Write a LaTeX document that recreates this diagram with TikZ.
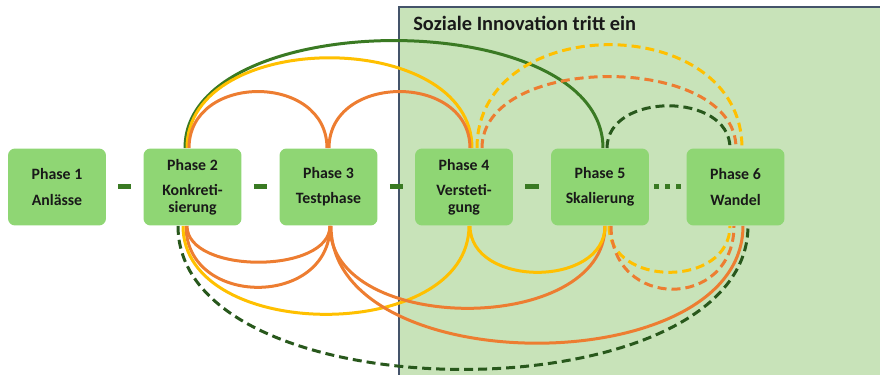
\documentclass[tikz,border=0pt]{standalone}
\usepackage{fontspec}
\setmainfont{Carlito}
\usetikzlibrary{backgrounds}
\definecolor{boxgreen}{RGB}{143,214,116}
\definecolor{areagreen}{RGB}{200,227,185}
\definecolor{arealine}{RGB}{68,84,106}
\definecolor{darkgreen}{RGB}{58,122,35}
\definecolor{dashgreen}{RGB}{40,88,28}
\definecolor{lineorange}{RGB}{237,125,49}
\definecolor{lineyellow}{RGB}{255,192,0}

\begin{document}
\begin{tikzpicture}[x=0.02cm,y=-0.02cm,
  phase/.style={fill=boxgreen, rounded corners=0.14cm, minimum width=1.96cm, minimum height=1.54cm,
    inner sep=0pt, align=center, text=black!90, font=\bfseries\fontsize{9}{9.8}\selectfont},
  link/.style={darkgreen, line width=0.1cm, shorten <=0.24cm, shorten >=0.24cm},
  bow/.style={line width=0.06cm},
  dashy/.style={dash pattern=on 0.18cm off 0.1cm}]
  \useasboundingbox (0,0) rectangle (880,375);

  \node[phase] (p1) at (57,187) {Phase 1\\[4.5pt]Anlässe};
  \node[phase] (p2) at (192.5,187) {Phase 2\\[4.5pt]Konkreti-\\sierung};
  \node[phase] (p3) at (328.5,187) {Phase 3\\[4.5pt]Testphase};
  \node[phase] (p4) at (464,187) {Phase 4\\[4.5pt]Versteti-\\gung};
  \node[phase] (p5) at (600,187) {Phase 5\\[4.5pt]Skalierung};
  \node[phase] (p6) at (735.5,187) {Phase 6\\[4.5pt]Wandel};
  \node[anchor=base west, inner sep=0pt, text=black!90, font=\bfseries\fontsize{11.6}{14}\selectfont] (title) at (413,30.5) {Soziale Innovation tritt ein};

  \draw[link] (p1) -- (p2);
  \draw[link] (p2) -- (p3);
  \draw[link] (p3) -- (p4);
  \draw[link] (p4) -- (p5);
  \draw[link, shorten <=0.1cm, shorten >=0.1cm, dash pattern=on 0.1cm off 0.12cm] (p5) -- (p6);

  \begin{pgfonlayer}{background}
  \fill[areagreen] (399,7) rectangle (880,375);
  \draw[arealine, line width=0.04cm] (399,375) -- (399,7) -- (880,7);

  % upper arcs
  \draw[bow, darkgreen] ([xshift=-0.15cm]p2.north) to[out=90, in=90, distance=2.87cm] ([xshift=0.06cm]p5.north);
  \draw[bow, lineyellow] ([xshift=-0.11cm]p2.north) to[out=90, in=90, distance=2.41cm] ([xshift=0.16cm]p4.north);
  \draw[bow, lineorange] ([xshift=-0.07cm]p2.north) to[out=90, in=90, distance=1.51cm] ([xshift=-0.03cm]p3.north);
  \draw[bow, lineorange] ([xshift=0.01cm]p3.north) to[out=90, in=90, distance=1.51cm] ([xshift=0.12cm]p4.north);
  \draw[bow, dashy, lineyellow] ([xshift=0.26cm]p4.north) to[out=90, in=90, distance=2.76cm] ([xshift=0.13cm]p6.north);
  \draw[bow, dashy, lineorange] ([xshift=0.36cm]p4.north) to[out=90, in=90, distance=1.91cm] ([xshift=0.01cm]p6.north);
  \draw[bow, dashy, dashgreen] ([xshift=0.14cm]p5.north) to[out=90, in=90, distance=1.13cm] ([xshift=-0.11cm]p6.north);

  % lower arcs
  \draw[bow, lineorange] ([xshift=-0.11cm]p2.south) to[out=-90, in=-90, distance=0.97cm] ([xshift=0.03cm]p3.south);
  \draw[bow, lineorange] ([xshift=-0.13cm]p2.south) to[out=-90, in=-90, distance=1.64cm] ([xshift=0.03cm]p3.south);
  \draw[bow, lineyellow] ([xshift=-0.19cm]p2.south) to[out=-90, in=-90, distance=2.36cm] ([xshift=0.1cm]p4.south);
  \draw[bow, lineorange] ([xshift=0.03cm]p3.south) to[out=-90, in=-90, distance=2.2cm] ([xshift=0.1cm]p5.south);
  \draw[bow, lineorange] ([xshift=0.05cm]p3.south) to[out=-90, in=-90, distance=3.13cm] ([xshift=0.15cm]p6.south);
  \draw[bow, dashy, dashgreen] ([xshift=-0.29cm]p2.south) to[out=-90, in=-90, distance=3.83cm] ([xshift=0.25cm]p6.south);
  \draw[bow, lineyellow] ([xshift=0.12cm]p4.south) to[out=-90, in=-90, distance=1.24cm] ([xshift=0.1cm]p5.south);
  \draw[bow, dashy, lineyellow] ([xshift=0.18cm]p5.south) to[out=-90, in=-90, distance=1.24cm] ([xshift=-0.11cm]p6.south);
  \draw[bow, dashy, lineorange] ([xshift=0.22cm]p5.south) to[out=-90, in=-90, distance=1.69cm] ([xshift=-0.03cm]p6.south);
  \end{pgfonlayer}
\end{tikzpicture}
\end{document}
